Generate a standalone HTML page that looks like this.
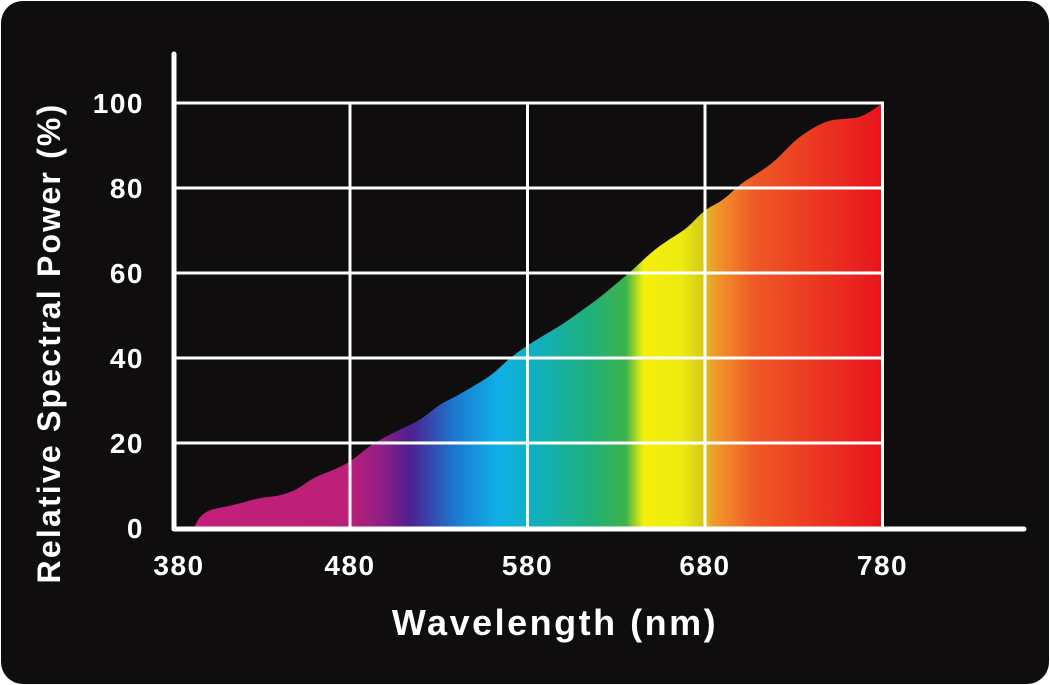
<!DOCTYPE html>
<html><head><meta charset="utf-8"><style>
body{margin:0;background:#fff;width:1050px;height:685px;overflow:hidden}
svg{display:block}
text{font-family:"Liberation Sans",sans-serif;fill:#fff;font-weight:bold}
</style></head><body>
<svg id="chart" width="1050" height="685" viewBox="0 0 1050 685">
<defs>
<linearGradient id="spec" gradientUnits="userSpaceOnUse" x1="172" y1="0" x2="881" y2="0">
<stop offset="0" stop-color="#c41f7a"/>
<stop offset="0.25" stop-color="#bb1f78"/>
<stop offset="0.3" stop-color="#8a1f86"/>
<stop offset="0.335" stop-color="#4e1f90"/>
<stop offset="0.4" stop-color="#1a7ad0"/>
<stop offset="0.46" stop-color="#0fb0e8"/>
<stop offset="0.52" stop-color="#11b0b8"/>
<stop offset="0.59" stop-color="#20b07a"/>
<stop offset="0.64" stop-color="#3cb34a"/>
<stop offset="0.665" stop-color="#f6ef0a"/>
<stop offset="0.72" stop-color="#ecea10"/>
<stop offset="0.75" stop-color="#d4c81a"/>
<stop offset="0.765" stop-color="#f09a2a"/>
<stop offset="0.82" stop-color="#ef5a26"/>
<stop offset="1" stop-color="#e8141c"/>
</linearGradient>
</defs>
<rect x="1" y="1" width="1048" height="683" rx="22" fill="#0f0d0e"/>
<g id="fillg"></g>
<g id="grid"></g>
<g id="axes"></g>
<g id="labels"></g>
<text x="555" y="635" font-size="36" letter-spacing="2.5" text-anchor="middle">Wavelength (nm)</text>
<text transform="translate(60,343) rotate(-90)" font-size="32" letter-spacing="2.2" text-anchor="middle">Relative Spectral Power (%)</text>
</svg>
<script>
const wavelengths=[392,395,400,410,420,430,440,450,460,470,480,490,500,510,520,530,540,550,560,570,580,590,600,610,620,630,640,650,660,670,680,690,700,710,720,730,740,750,760,770,780];
const power=[0,2.5,4.2,5,6,7.2,7.5,9,12,13.5,15.5,19,21.5,23.5,25.5,29,31,33.5,36,40,43,45.5,48,51,54,57.5,61,65,68,70.5,75,77,81,83.5,86.5,91,94,96,96.3,96.8,100];
const xTicks=[380,480,580,680,780];
const yTicks=[0,20,40,60,80,100];
const NS="http://www.w3.org/2000/svg";
const X=w=>172.5+(w-380)*1.775;
const Y=v=>528-v*4.25;
function mk(tag,attrs,parent){const e=document.createElementNS(NS,tag);for(const k in attrs)e.setAttribute(k,attrs[k]);document.getElementById(parent).appendChild(e);return e;}
const pts=wavelengths.map((w,i)=>[X(w),Y(power[i])]);
let d="M"+pts[0][0].toFixed(1)+","+Y(0)+" L"+pts[0][0].toFixed(1)+","+pts[0][1].toFixed(1);
for(let i=1;i<pts.length;i++){
  const p=pts[i-1],q=pts[i];
  if(i<pts.length-1){const mx=(p[0]+q[0])/2,my=(p[1]+q[1])/2;d+=" Q"+p[0].toFixed(1)+","+p[1].toFixed(1)+" "+mx.toFixed(1)+","+my.toFixed(1);}
  else d+=" Q"+p[0].toFixed(1)+","+p[1].toFixed(1)+" "+q[0].toFixed(1)+","+q[1].toFixed(1);
}
d+=" L"+X(780)+","+Y(0)+" Z";
const area=mk("path",{d:d,fill:"url(#spec)"},"fillg");


yTicks.forEach(v=>{if(v===0)return;const l=mk("line",{x1:172,x2:X(780)+1.5,y1:Y(v),y2:Y(v),stroke:"#fff","stroke-width":3},"grid");

});
xTicks.forEach(w=>{if(w===380)return;const l=mk("line",{x1:X(w),x2:X(w),y1:Y(100)-1.5,y2:Y(0),stroke:"#fff","stroke-width":3},"grid");

});
const ya=mk("line",{x1:174,x2:174,y1:54,y2:529,stroke:"#fff","stroke-width":5,"stroke-linecap":"round"},"axes");


const xa=mk("line",{x1:174,x2:1024,y1:529,y2:529,stroke:"#fff","stroke-width":5,"stroke-linecap":"round"},"axes");


xTicks.forEach(w=>{const t=mk("text",{x:(w===380?179:X(w)),y:575,"font-size":28,"letter-spacing":1.5,"text-anchor":"middle","font-weight":"normal"},"labels");t.textContent=w;

});
yTicks.forEach(v=>{const t=mk("text",{x:144,y:Y(v)+10,"font-size":28,"letter-spacing":1.5,"text-anchor":"end","font-weight":"normal"},"labels");t.textContent=v;

});
</script>
</body></html>
